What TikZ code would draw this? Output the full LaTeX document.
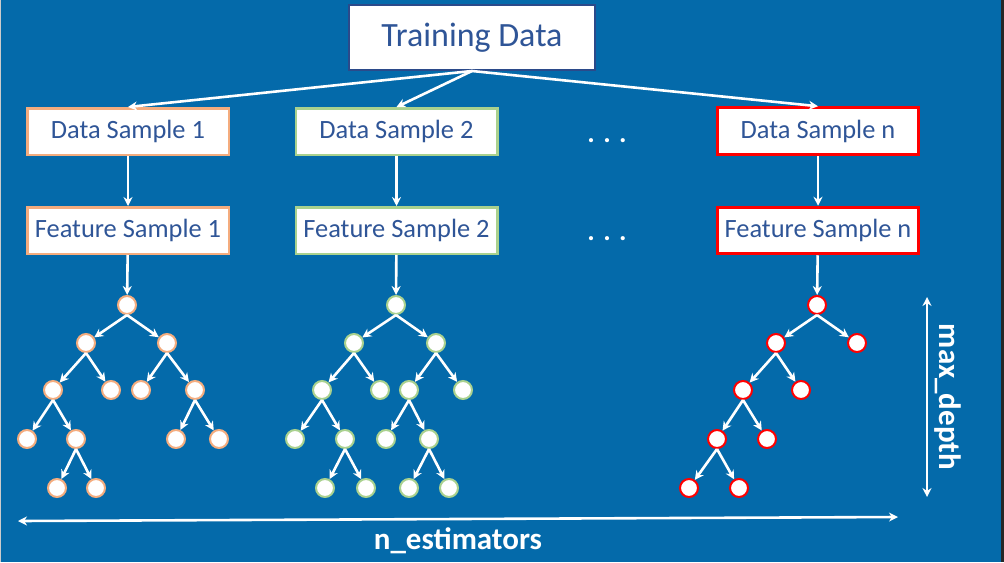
\documentclass[tikz,border=0pt]{standalone}
\usepackage{fontspec}
\setmainfont{Carlito}
\usetikzlibrary{arrows.meta}
\definecolor{bg}{HTML}{046AAA}
\definecolor{txt}{HTML}{2F5597}
\definecolor{navy}{HTML}{2B4A8A}
\definecolor{orng}{HTML}{F4AC7E}
\definecolor{grn}{HTML}{A9D18E}
\definecolor{rd}{HTML}{FF0000}
\tikzset{
  box/.style={draw, fill=white, text=txt, line width=1.25pt, minimum width=100.75pt,
    minimum height=23.25pt, inner sep=0pt, font=\fontsize{13.2}{15}\selectfont},
  leaf/.style={circle, draw, fill=white, line width=1pt, minimum size=9pt, inner sep=0pt},
  arr/.style={white, line width=1.3pt, -{Stealth[length=4.5pt,width=4.5pt]}},
  darr/.style={white, line width=1.3pt, {Stealth[length=4.5pt,width=4.5pt]}-{Stealth[length=4.5pt,width=4.5pt]}},
  axis/.style={text=white, font=\fontsize{15.5}{18}\selectfont\bfseries},
  dots/.style={anchor=base, text=white, font=\fontsize{14}{16}\selectfont\bfseries},
}
\begin{document}
\begin{tikzpicture}[x=0.5pt,y=-0.5pt]
    % Background
    \useasboundingbox (0,0) rectangle (1004,562);
    \fill[bg] (0,0) rectangle (1004,562);
    \fill[gray!40] (0,0) rectangle (1,562);
    \fill[black!85] (1001,0) rectangle (1004,562);

    % Boxes
    \node[box, draw=navy, line width=1pt, minimum width=123pt, minimum height=32.5pt,
      font=\fontsize{17}{20}\selectfont] (T) at (472,37.5) {Training Data};
    \node[box, draw=orng] (DS1) at (128,131.5) {Data Sample 1};
    \node[box, draw=orng] (FS1) at (128,230.5) {Feature Sample 1};
    \node[box, draw=grn] (DS2) at (396.5,131.5) {Data Sample 2};
    \node[box, draw=grn] (FS2) at (396.5,230.5) {Feature Sample 2};
    \node[box, draw=rd, line width=1.5pt] (DSn) at (818,131) {Data Sample n};
    \node[box, draw=rd, line width=1.5pt] (FSn) at (818,230.5) {Feature Sample n};

    % Dots
    \node[dots] (dots1) at (607,142) {. . .};
    \node[dots] (dots2) at (607,240) {. . .};

    % Sampling
    \draw[arr] (T.south) -- (DS1.north);
    \draw[arr] (T.south) -- (DS2.north);
    \draw[arr] (T.south) -- (DSn.north);
    \draw[arr] (DS1) -- (FS1);
    \draw[arr] (DS2) -- (FS2);
    \draw[arr] (DSn) -- (FSn);

    % Tree 1
    \node[leaf, draw=orng] (r1) at (127,305) {};
    \node[leaf, draw=orng] (a1) at (86,343) {};
    \node[leaf, draw=orng] (b1) at (167,343) {};
    \node[leaf, draw=orng] (c1) at (53,390) {};
    \node[leaf, draw=orng] (d1) at (111,390) {};
    \node[leaf, draw=orng] (e1) at (141,390) {};
    \node[leaf, draw=orng] (f1) at (195,390) {};
    \node[leaf, draw=orng] (g1) at (27,439) {};
    \node[leaf, draw=orng] (h1) at (76,439) {};
    \node[leaf, draw=orng] (i1) at (176,439) {};
    \node[leaf, draw=orng] (j1) at (219,439) {};
    \node[leaf, draw=orng] (k1) at (57,488) {};
    \node[leaf, draw=orng] (l1) at (96,488) {};
    \draw[arr] (FS1) -- (r1);
    \foreach \p/\c in {r1/a1, r1/b1, a1/c1, a1/d1, b1/e1, b1/f1, c1/g1, c1/h1, f1/i1, f1/j1, h1/k1, h1/l1}
      \draw[arr] (\p.south) -- (\c);

    % Tree 2
    \node[leaf, draw=grn] (r2) at (396,305) {};
    \node[leaf, draw=grn] (a2) at (354,343) {};
    \node[leaf, draw=grn] (b2) at (436,343) {};
    \node[leaf, draw=grn] (c2) at (322,390) {};
    \node[leaf, draw=grn] (d2) at (380,390) {};
    \node[leaf, draw=grn] (e2) at (409,390) {};
    \node[leaf, draw=grn] (f2) at (463,390) {};
    \node[leaf, draw=grn] (g2) at (295,439) {};
    \node[leaf, draw=grn] (h2) at (345,439) {};
    \node[leaf, draw=grn] (i2) at (386,439) {};
    \node[leaf, draw=grn] (j2) at (429,439) {};
    \node[leaf, draw=grn] (k2) at (325,488) {};
    \node[leaf, draw=grn] (l2) at (366,488) {};
    \node[leaf, draw=grn] (m2) at (409,488) {};
    \node[leaf, draw=grn] (n2) at (449,488) {};
    \draw[arr] (FS2) -- (r2);
    \foreach \p/\c in {r2/a2, r2/b2, a2/c2, a2/d2, b2/e2, b2/f2, c2/g2, c2/h2, e2/i2, e2/j2, h2/k2, h2/l2, j2/m2, j2/n2}
      \draw[arr] (\p.south) -- (\c);

    % Tree n
    \node[leaf, draw=rd] (r3) at (817,305) {};
    \node[leaf, draw=rd] (a3) at (776,343) {};
    \node[leaf, draw=rd] (b3) at (857,343) {};
    \node[leaf, draw=rd] (c3) at (743,390) {};
    \node[leaf, draw=rd] (d3) at (801,390) {};
    \node[leaf, draw=rd] (e3) at (717,439) {};
    \node[leaf, draw=rd] (f3) at (767,439) {};
    \node[leaf, draw=rd] (g3) at (689,488) {};
    \node[leaf, draw=rd] (h3) at (739,488) {};
    \draw[arr] (FSn) -- (r3);
    \foreach \p/\c in {r3/a3, r3/b3, a3/c3, a3/d3, c3/e3, c3/f3, e3/g3, e3/h3}
      \draw[arr] (\p.south) -- (\c);

    % Axes
    \coordinate (L) at (18,521);
    \coordinate (R) at (898,517);
    \draw[darr] (L) -- (R);
    \node[axis] (ne) at (458,541) {n\_estimators};
    \coordinate (U) at (927,297);
    \coordinate (D) at (927,497);
    \draw[darr] (U) -- (D);
    \node[axis, rotate=-90] (md) at (948,397) {max\_depth};
\end{tikzpicture}
\end{document}
